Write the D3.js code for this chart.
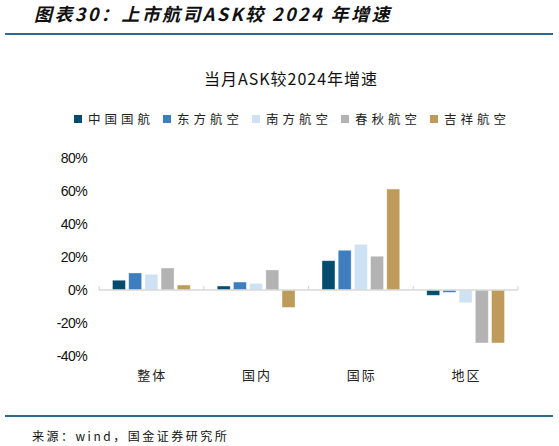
<!DOCTYPE html>
<html>
<head>
<meta charset="utf-8">
<script src="https://cdn.jsdelivr.net/npm/d3@7"></script>
<style>
  body { margin: 0; background: #fff; }
  svg { display: block; }
</style>
</head>
<body>
<div id="chart"></div>
<script>
  // categories and airlines
  const categories = ["整体", "国内", "国际", "地区"];
  const airlines = ["中国国航", "东方航空", "南方航空", "春秋航空", "吉祥航空"];
  const colors = ["#034b6f", "#3e7ebf", "#cfe2f3", "#b3b3b3", "#be9b5a"];

  // ASK growth vs 2024, % (one array per airline, ordered as categories)
  const airChina = [5.9, 2.4, 17.7, -3.2];
  const chinaEastern = [10.3, 4.8, 24.0, -1.4];
  const chinaSouthern = [9.5, 4.0, 27.6, -7.7];
  const spring = [13.3, 12.1, 20.4, -32.0];
  const juneyao = [3.0, -10.5, 61.0, -32.0];
  const seriesValues = [airChina, chinaEastern, chinaSouthern, spring, juneyao];

  const yTicks = [-40, -20, 0, 20, 40, 60, 80];

  const width = 559, height = 446;
  const cjk = "'Noto Sans CJK SC', 'Noto Sans', sans-serif";
  const latin = "'Liberation Sans', Arial, sans-serif";

  const svg = d3.select("#chart").append("svg")
    .attr("width", width)
    .attr("height", height);

  // report header
  svg.append("text")
    .attr("x", 34).attr("y", 21)
    .attr("font-family", cjk)
    .attr("font-size", 18)
    .attr("font-weight", "bold")
    .attr("font-style", "italic")
    .attr("letter-spacing", 2.4)
    .attr("fill", "#111")
    .text("图表30：上市航司ASK较 2024 年增速");

  svg.append("line")
    .attr("x1", 5).attr("x2", 553)
    .attr("y1", 34).attr("y2", 34)
    .attr("stroke", "#2d6a8c").attr("stroke-width", 2);

  // chart title
  svg.append("text")
    .attr("x", 291).attr("y", 85)
    .attr("text-anchor", "middle")
    .attr("font-family", cjk)
    .attr("font-size", 16)
    .attr("letter-spacing", 1)
    .attr("fill", "#111")
    .text("当月ASK较2024年增速");

  // legend
  const legend = svg.append("g")
    .selectAll("g")
    .data(airlines)
    .join("g")
    .attr("transform", (d, i) => `translate(${74 + i * 89},115)`);

  legend.append("rect")
    .attr("width", 8).attr("height", 8)
    .attr("fill", (d, i) => colors[i]);

  legend.append("text")
    .attr("x", 14).attr("y", 4).attr("dy", "0.36em")
    .attr("font-family", cjk)
    .attr("font-size", 12.5)
    .attr("letter-spacing", 4)
    .attr("fill", "#222")
    .text((d) => d);

  // scales
  const x0 = d3.scaleBand()
    .domain(categories)
    .range([99, 518]);

  const x1 = d3.scaleBand()
    .domain(airlines)
    .range([13.5, x0.bandwidth() - 13.5])
    .paddingInner(0.2);

  const y = d3.scaleLinear()
    .domain([-40, 80])
    .range([356.2, 157.6]);

  // y axis labels only
  const yAxis = svg.append("g")
    .attr("transform", "translate(87,0)")
    .call(d3.axisLeft(y).tickValues(yTicks).tickSize(0).tickPadding(0)
      .tickFormat((d) => d + "%"));
  yAxis.select(".domain").remove();
  yAxis.selectAll("text")
    .attr("font-family", latin)
    .attr("font-size", 14)
    .attr("letter-spacing", -0.6)
    .attr("fill", "#111");

  // bars
  const rows = categories.map((c, ci) =>
    airlines.map((a, ai) => ({ cat: c, airline: a, value: seriesValues[ai][ci], color: colors[ai] })));

  svg.append("g")
    .selectAll("g")
    .data(rows)
    .join("g")
    .attr("transform", (d) => `translate(${x0(d[0].cat)},0)`)
    .selectAll("rect")
    .data((d) => d)
    .join("rect")
    .attr("x", (d) => x1(d.airline))
    .attr("width", x1.bandwidth())
    .attr("y", (d) => y(Math.max(0, d.value)))
    .attr("height", (d) => Math.abs(y(d.value) - y(0)))
    .attr("fill", (d) => d.color)
    .attr("stroke", "#fff")
    .attr("stroke-opacity", 0.45)
    .attr("stroke-width", 0.8);

  // category axis at zero
  const xAxis = svg.append("g")
    .attr("transform", `translate(0,${y(0)})`);
  xAxis.append("line")
    .attr("x1", 99).attr("x2", 518)
    .attr("stroke", "#d9d9d9").attr("stroke-width", 1.5);
  xAxis.selectAll(".tick")
    .data(categories.concat([null]))
    .join("line")
    .attr("x1", (d) => (d ? x0(d) : 518))
    .attr("x2", (d) => (d ? x0(d) : 518))
    .attr("y1", -4).attr("y2", 0)
    .attr("stroke", "#d9d9d9").attr("stroke-width", 1.2);

  svg.append("g")
    .selectAll("text")
    .data(categories)
    .join("text")
    .attr("x", (d) => x0(d) + x0.bandwidth() / 2 + 1)
    .attr("y", 375).attr("dy", "0.36em")
    .attr("text-anchor", "middle")
    .attr("font-family", cjk)
    .attr("font-size", 13)
    .attr("letter-spacing", 2)
    .attr("fill", "#222")
    .text((d) => d);

  // footer
  svg.append("line")
    .attr("x1", 5).attr("x2", 553)
    .attr("y1", 416).attr("y2", 416)
    .attr("stroke", "#2d6a8c").attr("stroke-width", 2);

  svg.append("text")
    .attr("x", 32).attr("y", 437).attr("dy", "0.36em")
    .attr("font-family", cjk)
    .attr("font-size", 12)
    .attr("letter-spacing", 2.5)
    .attr("fill", "#111")
    .text("来源：wind，国金证券研究所");
</script>
</body>
</html>
